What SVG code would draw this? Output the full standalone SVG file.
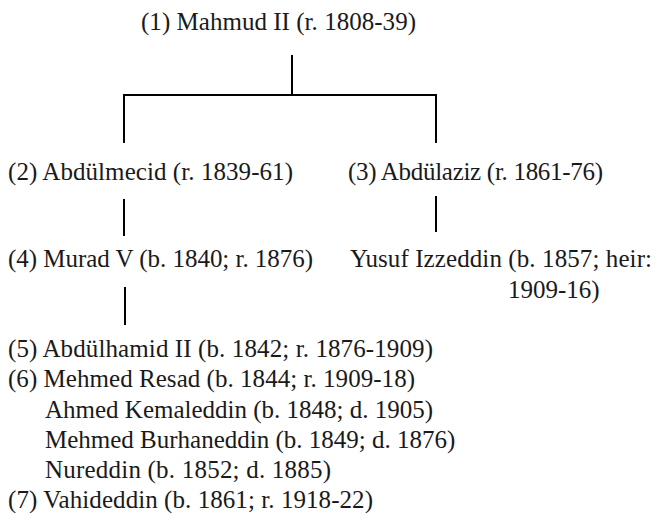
<svg xmlns="http://www.w3.org/2000/svg" width="655" height="513" viewBox="0 0 655 513">
<style>
text{font-family:"Liberation Serif","Times New Roman",serif;font-size:25px;fill:#1a1a1a}
.c line{stroke:#000;stroke-width:2}
</style>
<rect width="655" height="513" fill="#fff"/>
<g class="c" id="connectors">
<line x1="292" y1="55" x2="292" y2="95"/>
<line x1="123" y1="95" x2="437" y2="95"/>
<line x1="124" y1="94" x2="124" y2="143"/>
<line x1="436" y1="94" x2="436" y2="143"/>
<line x1="124" y1="199" x2="124" y2="236"/>
<line x1="436" y1="196" x2="436" y2="232"/>
<line x1="125" y1="287" x2="125" y2="325"/>
</g>
<g id="n1"><text x="141" y="30" textLength="275">(1) Mahmud II (r. 1808-39)</text></g>
<g id="n2"><text x="8" y="180" textLength="285">(2) Abdülmecid (r. 1839-61)</text></g>
<g id="n3"><text x="348" y="180" textLength="255">(3) Abdülaziz (r. 1861-76)</text></g>
<g id="n4"><text x="8" y="267" textLength="305">(4) Murad V (b. 1840; r. 1876)</text></g>
<g id="n-yusuf"><text x="350" y="267" textLength="302">Yusuf Izzeddin (b. 1857; heir:</text><text x="508" y="298">1909-16)</text></g>
<g id="n-list">
<text x="8" y="357" textLength="425">(5) Abdülhamid II (b. 1842; r. 1876-1909)</text>
<text x="8" y="387" textLength="407">(6) Mehmed Resad (b. 1844; r. 1909-18)</text>
<text x="45" y="418">Ahmed Kemaleddin (b. 1848; d. 1905)</text>
<text x="45" y="448">Mehmed Burhaneddin (b. 1849; d. 1876)</text>
<text x="45" y="478" textLength="286">Nureddin (b. 1852; d. 1885)</text>
<text x="8" y="508" textLength="365">(7) Vahideddin (b. 1861; r. 1918-22)</text>
</g>
</svg>
